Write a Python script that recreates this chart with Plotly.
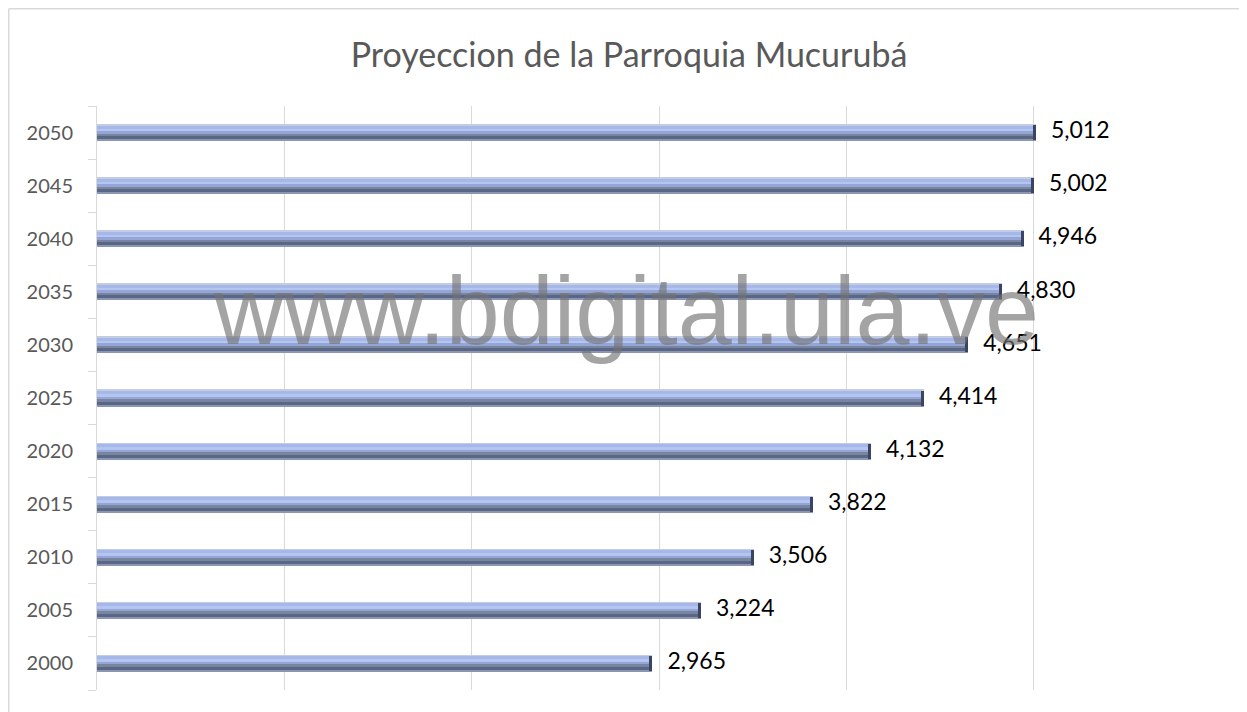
import plotly.graph_objects as go

# ---- data ----
years = ["2000", "2005", "2010", "2015", "2020", "2025", "2030", "2035", "2040", "2045", "2050"]
population = [2965, 3224, 3506, 3822, 4132, 4414, 4651, 4830, 4946, 5002, 5012]
title_text = "Proyeccion de la Parroquia Mucurubá"
watermark = "www.bdigital.ula.ve"
x_max = 6000
x_step = 1000

# ---- geometry (figure pixels; page has an 8px body margin) ----
W, H = 1239, 704
ML, MR, MT, MB = 89, 26, 98, 22
plot_h = H - MT - MB
plot_w = W - ML - MR
u = len(years) / plot_h          # category units per pixel
xu = x_max / plot_w              # x units per pixel

FONT = "Lato, Calibri, Carlito, sans-serif"

# bar layers: (top px, bottom px relative to bar centre, colour)
layers = [
    (8.5, 7, "#c4cce0"),
    (7, 4, "#a6b8ea"),
    (4, 1.5, "#b5c5f2"),
    (1.5, -1, "#95a6d6"),
    (-1, -3.5, "#77859f"),
    (-3.5, -6.5, "#5a6686"),
    (-6.5, -8.5, "#8b96b3"),
]

fig = go.Figure()
for top, bot, col in layers:
    fig.add_trace(go.Bar(
        y=years, x=population, orientation="h",
        offset=bot * u, width=(top - bot) * u,
        marker=dict(color=col, line=dict(width=0)),
        hoverinfo="skip", showlegend=False,
    ))

# dark end caps
fig.add_trace(go.Bar(
    y=years, x=[3 * xu] * len(years), base=[v - 3 * xu for v in population],
    orientation="h", offset=-7.5 * u, width=15 * u,
    marker=dict(color="#3b4563", line=dict(width=0)),
    hoverinfo="skip", showlegend=False,
))

# data labels
fig.add_trace(go.Scatter(
    y=years, x=[v + 15 * xu for v in population], mode="text",
    text=[f"{v:,}" for v in population], textposition="middle right",
    textfont=dict(family=FONT, size=23, color="#000000"),
    hoverinfo="skip", showlegend=False, cliponaxis=False,
))

# watermark
fig.add_annotation(
    x=(618 - ML) / plot_w, y=(H - MB - 302) / plot_h, xref="paper", yref="paper",
    text=watermark, showarrow=False, xanchor="center", yanchor="middle",
    font=dict(family="Liberation Sans, Arial, sans-serif", size=97, color="rgba(115,115,115,0.65)"),
)

# outer frame (left and top edges)
fx = (0.75 - ML) / plot_w
fy = (H - MB - 0.75) / plot_h
fig.add_shape(type="line", xref="paper", yref="paper", x0=fx, x1=fx, y0=-0.1, y1=fy,
              line=dict(color="#d9d9d9", width=1.5))
fig.add_shape(type="line", xref="paper", yref="paper", x0=fx, x1=1.1, y0=fy, y1=fy,
              line=dict(color="#d9d9d9", width=1.5))

fig.update_layout(
    width=W, height=H,
    margin=dict(l=ML, r=MR, t=MT, b=MB, pad=0),
    paper_bgcolor="white", plot_bgcolor="white",
    barmode="overlay", bargap=0,
    title=dict(text=title_text, x=(621 / W), xanchor="center", xref="container",
               y=1 - 47 / H, yanchor="middle", yref="container",
               font=dict(family=FONT, size=34, color="#595959")),
    xaxis=dict(range=[0, x_max], dtick=x_step, tick0=0, showticklabels=False,
               showgrid=True, gridcolor="#d9d9d9", gridwidth=1, zeroline=False,
               showline=False, ticks=""),
    yaxis=dict(type="category", categoryorder="array", categoryarray=years,
               range=[-0.5, len(years) - 0.5], tickson="boundaries",
               ticks="outside", ticklen=8, tickcolor="#d9d9d9", tickwidth=1,
               showline=True, linecolor="#d9d9d9", linewidth=1, showgrid=False,
               ticklabelstandoff=19,
               tickfont=dict(family=FONT, size=20, color="#595959")),
)

fig.write_html("out.html")
